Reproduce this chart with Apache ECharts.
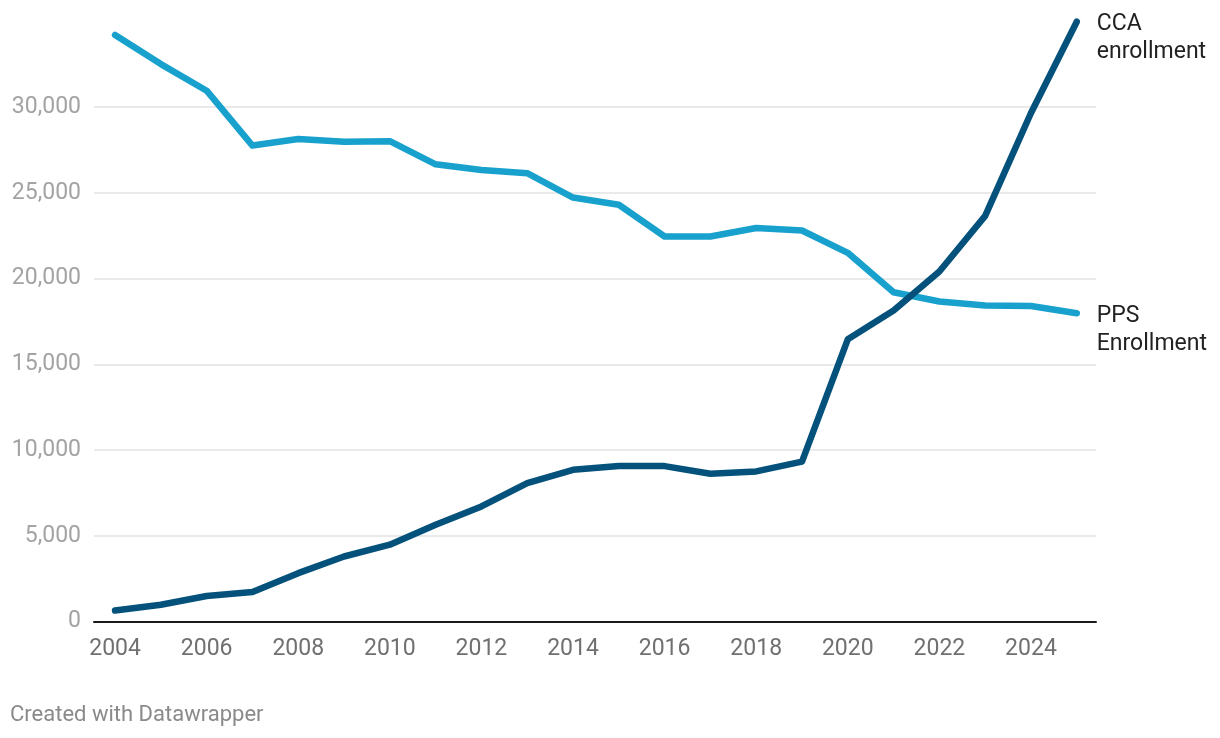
<!DOCTYPE html>
<html>
<head>
<meta charset="utf-8">
<script src="https://cdn.jsdelivr.net/npm/echarts@6/dist/echarts.min.js"></script>
<style>
  html, body { margin: 0; padding: 0; background: #fff; }
  #chart { width: 1220px; height: 738px; }
</style>
</head>
<body>
<div id="chart"></div>
<script>
const years = [2004,2005,2006,2007,2008,2009,2010,2011,2012,2013,2014,2015,2016,2017,2018,2019,2020,2021,2022,2023,2024,2025];
const ppsEnrollment = [34200,32500,30950,27750,28130,27980,28010,26660,26330,26140,24720,24300,22450,22450,22950,22800,21500,19200,18660,18430,18400,17980];
const ccaEnrollment = [650,990,1500,1730,2830,3800,4490,5650,6720,8080,8850,9070,9070,8620,8760,9330,16460,18140,20410,23650,29650,34970];
const xTickLabels = [2004,2006,2008,2010,2012,2014,2016,2018,2020,2022,2024];
const ppsLabel = 'PPS\nEnrollment';
const ccaLabel = 'CCA\nenrollment';
const footerText = 'Created with Datawrapper';

const chart = echarts.init(document.getElementById('chart'), null, { renderer: 'canvas' });
const font = 'Roboto, "Noto Sans", sans-serif';

const endLabelStyle = (text) => ({
  show: true,
  formatter: () => text,
  distance: 20,
  offset: [0, 17],
  color: '#222222',
  fontSize: 23,
  lineHeight: 28,
  fontFamily: font,
  align: 'left',
  verticalAlign: 'middle'
});

chart.setOption({
  animation: false,
  backgroundColor: '#ffffff',
  grid: { left: 94, right: 124, top: 21.2, bottom: 116.3, containLabel: false },
  xAxis: {
    type: 'value',
    min: 2003.54,
    max: 2025.42,
    axisLine: { show: true, onZero: true, lineStyle: { color: '#1a1a1a', width: 2 } },
    axisTick: { show: false },
    splitLine: { show: false },
    axisLabel: {
      customValues: xTickLabels,
      formatter: (v) => String(v),
      color: '#707070',
      fontSize: 23,
      fontFamily: font,
      margin: 16
    }
  },
  yAxis: {
    type: 'value',
    min: 0,
    max: 35000,
    interval: 5000,
    axisLine: { show: false },
    axisTick: { show: false },
    splitLine: { show: true, showMaxLine: false, showMinLine: false, lineStyle: { color: '#e3e3e3', width: 1.5 } },
    axisLabel: {
      showMaxLabel: false,
      formatter: (v) => v.toLocaleString('en-US'),
      color: '#a3a3a3',
      fontSize: 23,
      fontFamily: font,
      margin: 13,
      padding: [3, 0, 0, 0]
    }
  },
  series: [
    {
      name: 'PPS Enrollment',
      type: 'line',
      data: years.map((y, i) => [y, ppsEnrollment[i]]),
      symbol: 'none',
      lineStyle: { color: '#18a1cd', width: 6.5, cap: 'round', join: 'round' },
      itemStyle: { color: '#18a1cd' },
      endLabel: endLabelStyle(ppsLabel),
      z: 2
    },
    {
      name: 'CCA enrollment',
      type: 'line',
      data: years.map((y, i) => [y, ccaEnrollment[i]]),
      symbol: 'none',
      lineStyle: { color: '#04527c', width: 6.5, cap: 'round', join: 'round' },
      itemStyle: { color: '#04527c' },
      endLabel: endLabelStyle(ccaLabel),
      z: 3
    }
  ],
  graphic: [
    {
      type: 'text',
      left: 10,
      top: 704,
      style: { text: footerText, fill: '#8a8a8a', fontSize: 22, fontFamily: font }
    }
  ]
});
</script>
</body>
</html>
